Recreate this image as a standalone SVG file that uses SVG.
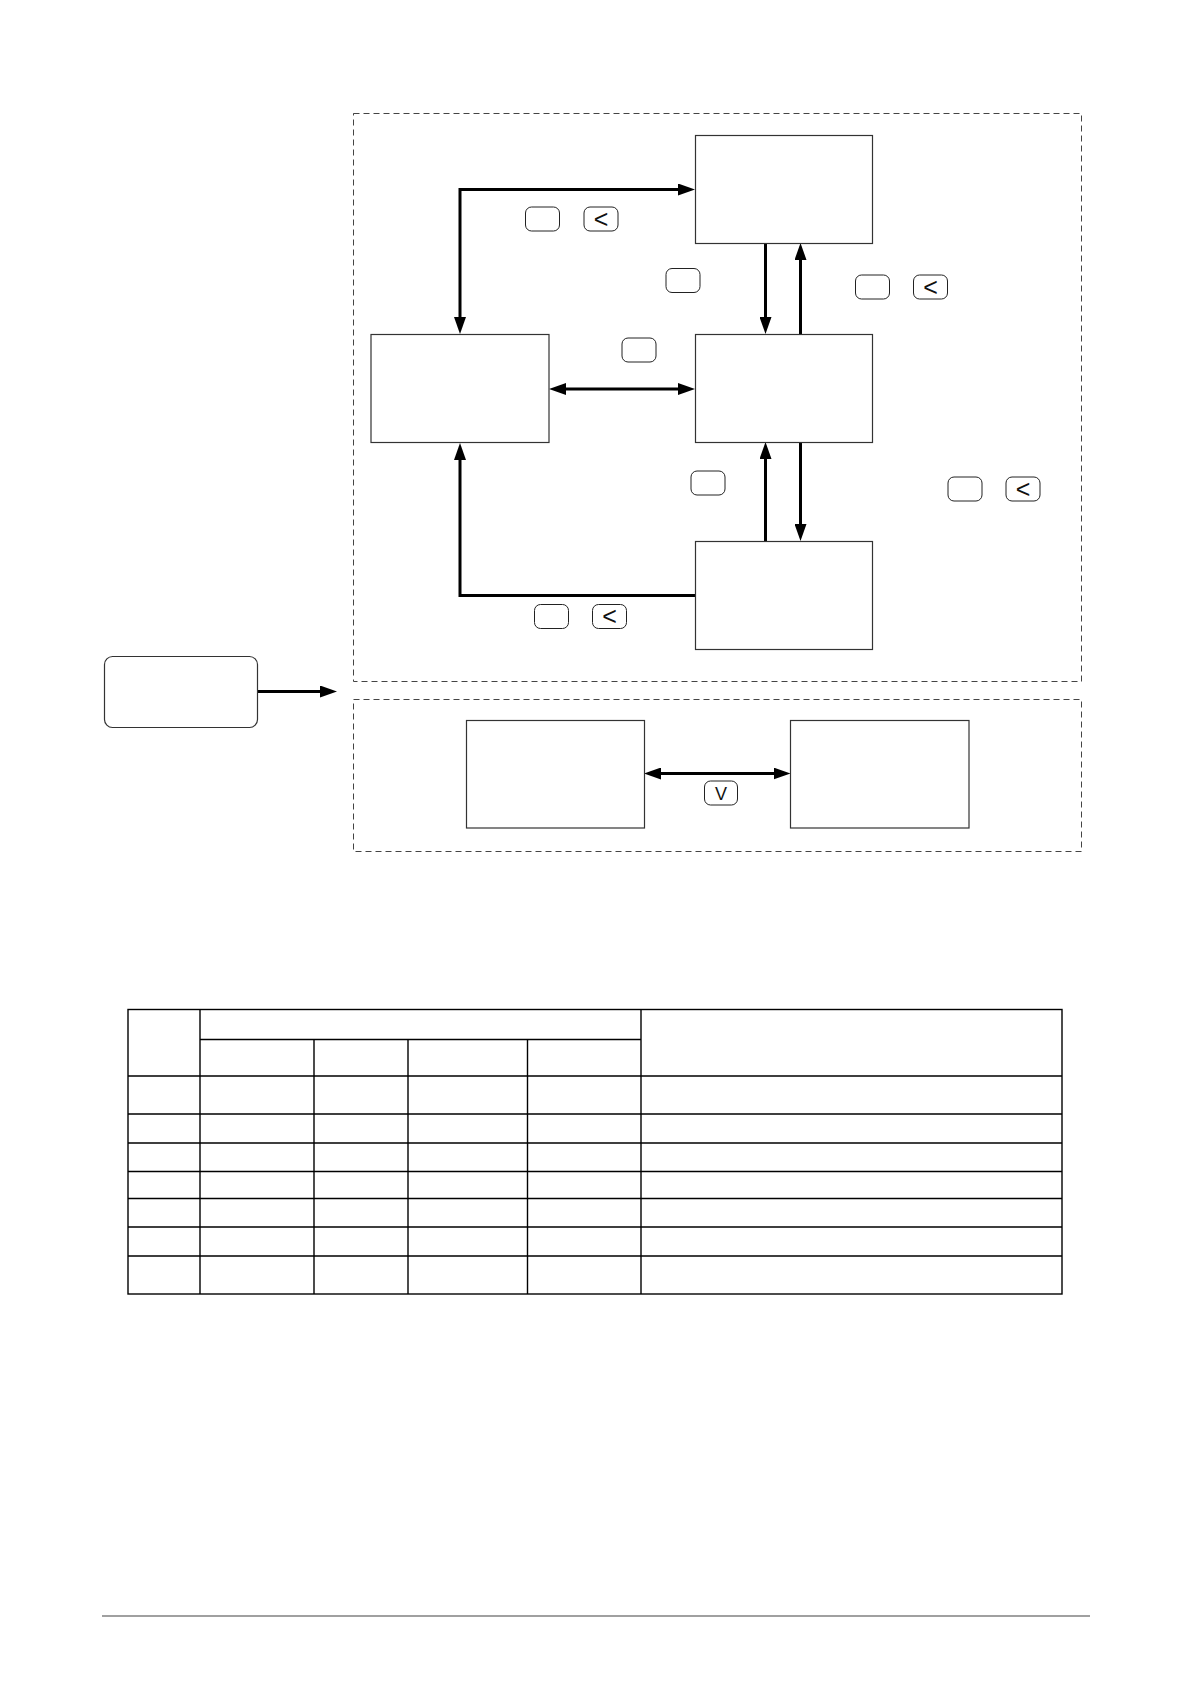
<svg xmlns="http://www.w3.org/2000/svg" width="1191" height="1684" viewBox="0 0 1191 1684">
<style>
.frame{fill:none;stroke:#444;stroke-width:1;stroke-dasharray:6 4}
.node{fill:#fff;stroke:#333;stroke-width:1.2}
.btn{fill:#fff;stroke:#222;stroke-width:1}
.key{font-family:"Liberation Sans",Arial,sans-serif;font-size:18px;fill:#111;text-anchor:middle}
.lt{font-size:25px}
.conn{fill:none;stroke:#000;stroke-width:3}
.tbl{fill:none;stroke:#000;stroke-width:1.4}
</style>
<defs>
<marker id="ah" markerUnits="userSpaceOnUse" markerWidth="17" markerHeight="12" refX="9" refY="6" orient="auto-start-reverse">
<path d="M0,0 L17,6 L0,12 z" fill="#000"/>
</marker>
</defs>
<rect width="1191" height="1684" fill="#fff"/>
<g id="frames">
<rect class="frame" x="353.5" y="113.5" width="728" height="568"/>
<rect class="frame" x="353.5" y="699.5" width="728" height="152"/>
</g>
<g id="connectors">
<path class="conn" d="M460,326 L460,189.5 L687,189.5" marker-start="url(#ah)" marker-end="url(#ah)"/>
<path class="conn" d="M765.5,243 L765.5,326" marker-end="url(#ah)"/>
<path class="conn" d="M800.5,334 L800.5,251" marker-end="url(#ah)"/>
<path class="conn" d="M557,389 L687,389" marker-start="url(#ah)" marker-end="url(#ah)"/>
<path class="conn" d="M765.5,541 L765.5,450" marker-end="url(#ah)"/>
<path class="conn" d="M800.5,442 L800.5,533" marker-end="url(#ah)"/>
<path class="conn" d="M695,595.5 L460,595.5 L460,451" marker-end="url(#ah)"/>
<path class="conn" d="M257,691.5 L329,691.5" marker-end="url(#ah)"/>
<path class="conn" d="M652,773.5 L782.5,773.5" marker-start="url(#ah)" marker-end="url(#ah)"/>
</g>
<g id="nodeA"><rect class="node" x="695.5" y="135.5" width="177" height="108"/></g>
<g id="nodeB"><rect class="node" x="695.5" y="334.5" width="177" height="108"/></g>
<g id="nodeC"><rect class="node" x="371" y="334.5" width="178" height="108"/></g>
<g id="nodeD"><rect class="node" x="695.5" y="541.5" width="177" height="108"/></g>
<g id="nodeE"><rect class="node" x="466.5" y="720.5" width="178" height="107.5"/></g>
<g id="nodeF"><rect class="node" x="790.5" y="720.5" width="178.5" height="107.5"/></g>
<g id="nodeStart"><rect class="node" x="104.5" y="656.5" width="153" height="71" rx="8"/></g>
<g id="keys">
<rect class="btn" x="525.5" y="207" width="34" height="24" rx="6"/>
<rect class="btn" x="584" y="207" width="34" height="24" rx="6"/><text class="key lt" x="601" y="227.5">&lt;</text>
<rect class="btn" x="666" y="268.5" width="34" height="24" rx="6"/>
<rect class="btn" x="855.5" y="275" width="34" height="24" rx="6"/>
<rect class="btn" x="913.5" y="275" width="34" height="24" rx="6"/><text class="key lt" x="930.5" y="295.5">&lt;</text>
<rect class="btn" x="622" y="338" width="34" height="24" rx="6"/>
<rect class="btn" x="691" y="471" width="34" height="24" rx="6"/>
<rect class="btn" x="948" y="477" width="34" height="24" rx="6"/>
<rect class="btn" x="1006" y="477" width="34" height="24" rx="6"/><text class="key lt" x="1023" y="497.5">&lt;</text>
<rect class="btn" x="534.5" y="604.5" width="34" height="24" rx="6"/>
<rect class="btn" x="592.5" y="604.5" width="34" height="24" rx="6"/><text class="key lt" x="609.5" y="625">&lt;</text>
<rect class="btn" x="704.5" y="781" width="33" height="24" rx="6"/><text class="key" x="721" y="799.5">V</text>
</g>
<g id="table">
<rect class="tbl" x="128" y="1009.5" width="934" height="284.5"/>
<path class="tbl" d="M200,1009.5 V1294 M641,1009.5 V1294 M314,1039.5 V1294 M408,1039.5 V1294 M527.5,1039.5 V1294 M200,1039.5 H641 M128,1076 H1062 M128,1114 H1062 M128,1143 H1062 M128,1171.5 H1062 M128,1198.5 H1062 M128,1227 H1062 M128,1256 H1062"/>
</g>
<line x1="102" y1="1616" x2="1090" y2="1616" stroke="#a0a0a0" stroke-width="2"/>
</svg>
